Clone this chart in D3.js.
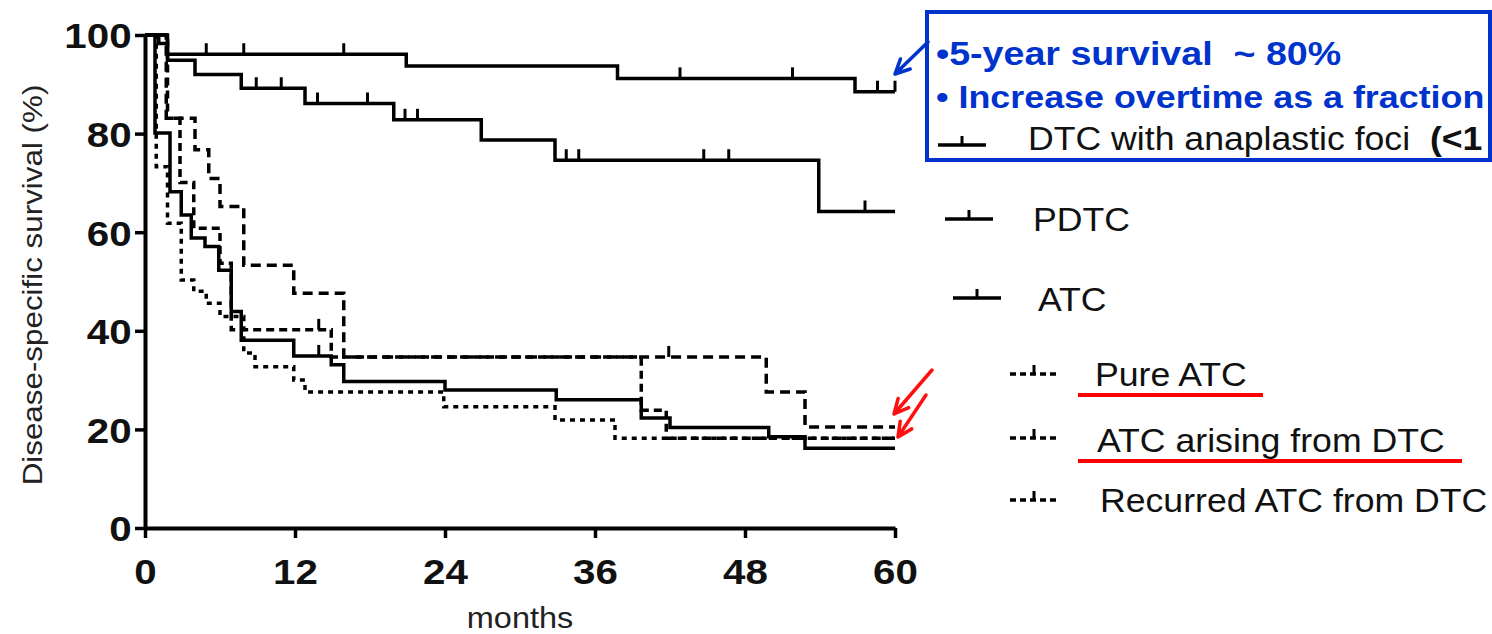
<!DOCTYPE html>
<html>
<head>
<meta charset="utf-8">
<script src="https://cdn.jsdelivr.net/npm/d3@7"></script>
<style>
body { margin: 0; background: #fff; }
text { font-family: "Liberation Sans", Arial, sans-serif; }
</style>
</head>
<body>
<div id="canvas"></div>
<script>
const width = 1492;
const height = 634;

// axis ticks
const monthTicks = [0, 12, 24, 36, 48, 60];
const pctTicks = [0, 20, 40, 60, 80, 100];

// DTC with anaplastic foci
const fociTime = [0, 1.1, 1.8, 20.9, 37.8, 56.8];
const fociSurv = [100, 98.3, 96.1, 93.7, 91.2, 88.5];
const fociCens = [4.9, 7.9, 15.9, 42.8, 51.8, 58.6, 60];

// PDTC
const pdtcTime = [0, 1.8, 4.0, 7.7, 12.8, 19.9, 26.9, 32.8, 53.9];
const pdtcSurv = [100, 94.9, 92.0, 89.2, 86.1, 82.8, 78.7, 74.6, 64.2];
const pdtcCens = [8.9, 10.9, 13.8, 17.8, 20.8, 21.8, 33.7, 34.7, 44.7, 46.7, 57.6];

// ATC (all)
const atcTime = [0, 0.8, 2.0, 2.9, 3.7, 4.8, 5.9, 6.9, 7.7, 11.9, 14.9, 15.9, 24.0, 32.9, 39.7, 42.0, 49.9, 52.8];
const atcSurv = [100, 80.1, 68.2, 63.5, 58.8, 57.1, 52.3, 43.9, 38.1, 34.9, 33.1, 29.7, 28.0, 26.0, 22.3, 20.4, 18.5, 16.2];
const atcCens = [13.9];

// Pure ATC
const pureTime = [0, 1.8, 2.8, 3.9, 6.0, 6.9, 14.9, 39.7, 41.7];
const pureSurv = [100, 83.1, 70.1, 60.8, 53.7, 40.2, 34.7, 23.9, 18.2];
const pureCens = [13.9];

// ATC arising from DTC
const arisTime = [0, 1.7, 4.0, 5.1, 6.0, 7.9, 11.9, 15.9, 49.7, 52.8];
const arisSurv = [100, 83.1, 76.7, 70.9, 65.2, 53.3, 47.6, 34.7, 27.6, 20.5];
const arisCens = [41.9];

// Recurred ATC from DTC
const recTime = [0, 0.9, 1.8, 2.9, 3.9, 4.9, 6.0, 7.9, 8.8, 11.9, 12.8, 23.9, 32.8, 37.6];
const recSurv = [100, 73.3, 61.8, 50.3, 48.0, 45.6, 42.9, 35.5, 32.7, 30.0, 27.6, 24.6, 21.9, 18.2];
const recCens = [];

const series = [
  {name: 'DTC with anaplastic foci', t: fociTime, s: fociSurv, c: fociCens, dash: null},
  {name: 'PDTC', t: pdtcTime, s: pdtcSurv, c: pdtcCens, dash: null},
  {name: 'ATC', t: atcTime, s: atcSurv, c: atcCens, dash: null},
  {name: 'Pure ATC', t: pureTime, s: pureSurv, c: pureCens, dash: '8,5'},
  {name: 'ATC arising from DTC', t: arisTime, s: arisSurv, c: arisCens, dash: '10,6'},
  {name: 'Recurred ATC from DTC', t: recTime, s: recSurv, c: recCens, dash: '5,5'}
];

const SX = 1.12; // the source picture is a bit stretched sideways

const svg = d3.select('#canvas').append('svg')
  .attr('width', width)
  .attr('height', height);

const x = d3.scaleLinear().domain([0, 60]).range([145, 895]);
const y = d3.scaleLinear().domain([0, 100]).range([528, 35]);

// axes
const yAxis = d3.axisLeft(y).tickValues(pctTicks).tickSize(10).tickSizeOuter(0);
const xAxis = d3.axisBottom(x).tickValues(monthTicks).tickSize(10).tickSizeOuter(0);

const gy = svg.append('g').attr('transform', 'translate(145,0)').call(yAxis);
const gx = svg.append('g').attr('transform', 'translate(0,528)').call(xAxis);

[gx, gy].forEach(g => {
  g.select('.domain').attr('stroke', '#000').attr('stroke-width', 4);
  g.selectAll('.tick line').attr('stroke', '#000').attr('stroke-width', 3.5);
  g.selectAll('.tick text')
    .attr('fill', '#111')
    .style('font-size', '36px')
    .style('font-weight', 'bold');
});
gy.selectAll('.tick text').attr('x', -12).attr('dy', '0.36em')
  .attr('transform', `scale(${SX},1)`);
gx.selectAll('.tick text').attr('y', 30).attr('dy', '0.71em')
  .attr('transform', `scale(${SX},1)`);

svg.append('text')
  .attr('transform', `translate(42,285) rotate(-90) scale(${SX},1)`)
  .attr('text-anchor', 'middle')
  .style('font-size', '28px')
  .attr('fill', '#222')
  .text('Disease-specific survival (%)');

svg.append('text')
  .attr('transform', `translate(520,628) scale(${SX},1)`)
  .attr('text-anchor', 'middle')
  .style('font-size', '29px')
  .attr('fill', '#222')
  .text('months');

// curves
const line = d3.line()
  .x(d => x(d[0]))
  .y(d => y(d[1]))
  .curve(d3.curveStepAfter);

const survAt = (sr, t) => {
  let v = sr.s[0];
  sr.t.forEach((tt, i) => { if (tt <= t) v = sr.s[i]; });
  return v;
};

const plot = svg.append('g');
series.forEach(sr => {
  const pts = sr.t.map((t, i) => [t, sr.s[i]]);
  pts.push([60, sr.s[sr.s.length - 1]]);
  plot.append('path')
    .attr('d', line(pts))
    .attr('fill', 'none')
    .attr('stroke', '#000')
    .attr('stroke-width', 3.5)
    .attr('stroke-dasharray', sr.dash);
  sr.c.forEach(t => {
    const v = survAt(sr, t);
    plot.append('line')
      .attr('x1', x(t)).attr('x2', x(t))
      .attr('y1', y(v)).attr('y2', y(v) - 11)
      .attr('stroke', '#000')
      .attr('stroke-width', 3);
  });
});

// legend
const legendPos = [
  {sx: 938, sy: 145, tx: 1028, ty: 150},
  {sx: 945, sy: 219, tx: 1033, ty: 231},
  {sx: 953, sy: 298, tx: 1038, ty: 311},
  {sx: 1010, sy: 374, tx: 1095, ty: 386},
  {sx: 1010, sy: 438, tx: 1097, ty: 452},
  {sx: 1010, sy: 500, tx: 1100, ty: 512}
];

const leg = svg.append('g');
series.forEach((sr, i) => {
  const p = legendPos[i];
  const g = leg.append('g');
  g.append('line')
    .attr('x1', p.sx).attr('x2', p.sx + 48)
    .attr('y1', p.sy).attr('y2', p.sy)
    .attr('stroke', '#000').attr('stroke-width', 3.5)
    .attr('stroke-dasharray', sr.dash ? '6,4' : null);
  g.append('line')
    .attr('x1', p.sx + 24).attr('x2', p.sx + 24)
    .attr('y1', p.sy).attr('y2', p.sy - 9)
    .attr('stroke', '#000').attr('stroke-width', 3);
  const t = g.append('text')
    .attr('transform', `translate(${p.tx},${p.ty}) scale(1.08,1)`)
    .style('font-size', '33px')
    .style('white-space', 'pre')
    .attr('fill', '#111')
    .text(sr.name);
  if (i === 0) {
    t.append('tspan').style('font-weight', 'bold').text('  (<1');
  }
});

// red underlines
const underlines = [[1078, 1263, 395], [1078, 1462, 461]];
underlines.forEach(u => {
  svg.append('line')
    .attr('x1', u[0]).attr('x2', u[1]).attr('y1', u[2]).attr('y2', u[2])
    .attr('stroke', '#ff0000').attr('stroke-width', 4);
});

// blue annotation box
svg.append('rect')
  .attr('x', 927).attr('y', 12).attr('width', 563).attr('height', 148)
  .attr('fill', 'none').attr('stroke', '#0033cc').attr('stroke-width', 4);

const note = svg.append('g');
note.append('text')
  .attr('transform', 'translate(936,65) scale(1.14,1)')
  .style('font-size', '33px').style('font-weight', 'bold').style('white-space', 'pre')
  .attr('fill', '#0033cc')
  .text('\u20225-year survival  ~ 80%');
note.append('text')
  .attr('transform', 'translate(936,108) scale(1.12,1)')
  .style('font-size', '32px').style('font-weight', 'bold').style('white-space', 'pre')
  .attr('fill', '#0033cc')
  .text('\u2022 Increase overtime as a fraction');

// arrows
const arrow = (x1, y1, x2, y2, color, w) => {
  const a = Math.atan2(y2 - y1, x2 - x1);
  const h = 16, sp = 0.45;
  const p = d3.path();
  p.moveTo(x1, y1); p.lineTo(x2, y2);
  p.moveTo(x2 - h * Math.cos(a - sp), y2 - h * Math.sin(a - sp));
  p.lineTo(x2, y2);
  p.lineTo(x2 - h * Math.cos(a + sp), y2 - h * Math.sin(a + sp));
  svg.append('path').attr('d', p.toString())
    .attr('fill', 'none').attr('stroke', color).attr('stroke-width', w)
    .attr('stroke-linecap', 'round').attr('stroke-linejoin', 'round');
};
arrow(928, 42, 895, 74, '#0033cc', 3.5);
arrow(932, 370, 894, 414, '#ff1010', 3.5);
arrow(926, 395, 898, 437, '#ff1010', 3.5);
</script>
</body>
</html>
